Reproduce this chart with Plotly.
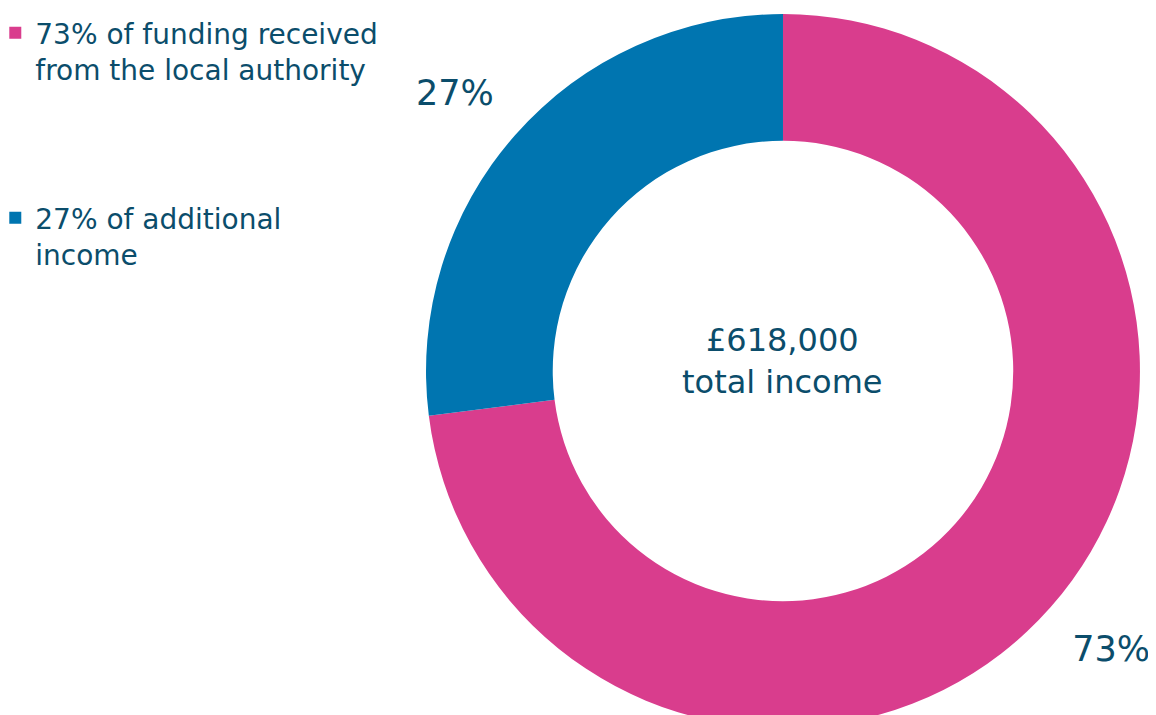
import plotly.graph_objects as go

labels = ["73% of funding received<br>from the local authority<br> <br> <br> ",
          "27% of additional<br>income"]
values = [73, 27]
pct_labels = ["73%", "27%"]
colors = ["#d93d8d", "#0075b0"]
center_text = "£618,000<br>total income"

TEXT = "#0b4d6b"
FONT = "DejaVu Sans"
NB = "\u00a0"

W, H = 1156, 760
dom_x = [0.3616, 0.9792]
dom_y = [0.0526, 0.9921]

# padding lines push the outside labels a little further from the ring
slice_text = [NB + "<br>" + pct_labels[0], pct_labels[1] + "<br>" + NB]

fig = go.Figure(go.Pie(
    labels=labels,
    values=values,
    text=slice_text,
    hole=0.645,
    sort=False,
    direction="clockwise",
    rotation=0,
    marker=dict(colors=colors, line=dict(width=0)),
    texttemplate="%{text}",
    textposition="outside",
    outsidetextfont=dict(family=FONT, size=35, color=TEXT),
    domain=dict(x=dom_x, y=dom_y),
    showlegend=True,
    hoverinfo="label+percent",
))

fig.add_annotation(
    x=(dom_x[0] + dom_x[1]) / 2, y=(dom_y[0] + dom_y[1]) / 2,
    xref="paper", yref="paper", xanchor="center", yanchor="middle",
    yshift=10, text=center_text, showarrow=False,
    font=dict(family=FONT, size=32, color=TEXT), align="center",
)

fig.update_layout(
    width=W, height=H,
    margin=dict(l=0, r=0, t=0, b=0, autoexpand=False),
    paper_bgcolor="white", plot_bgcolor="white",
    font=dict(family=FONT, color=TEXT),
    legend=dict(x=-0.011, y=1.0, xanchor="left", yanchor="top",
                valign="top", font=dict(family=FONT, size=28, color=TEXT),
                itemwidth=30, bgcolor="rgba(0,0,0,0)"),
)

fig.write_html("out.html")
